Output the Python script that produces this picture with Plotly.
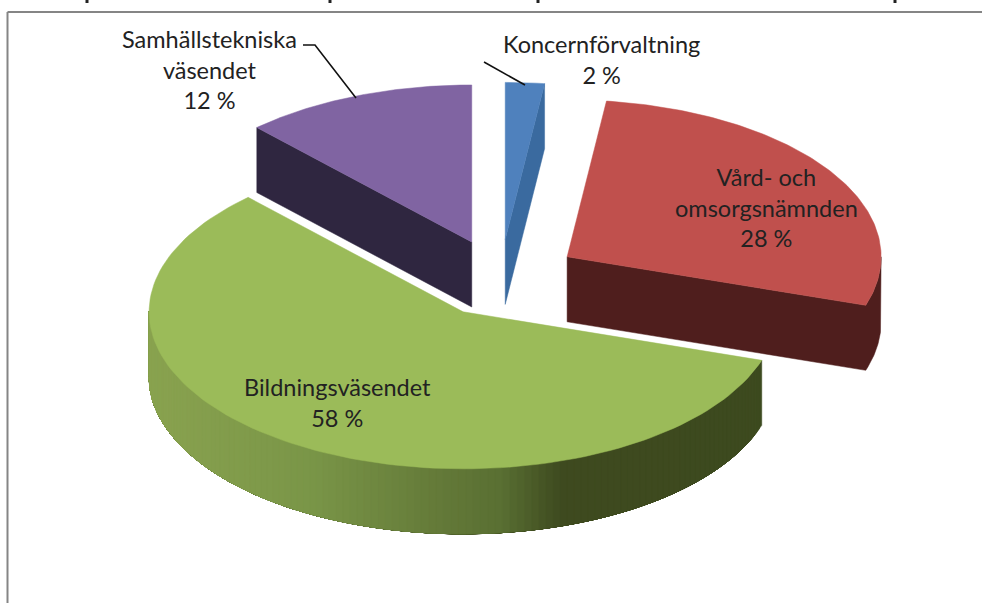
import numpy as np
import plotly.graph_objects as go

# Data
labels = ["Koncernförvaltning", "Vård- och<br>omsorgsnämnden", "Bildningsväsendet", "Samhällstekniska<br>väsendet"]
values = [2, 28, 58, 12]

# Style
top_colors = ["#4F81BD", "#C0504D", "#9BBB59", "#8064A2"]
wall_colors = ["#3A6A9F", "#4F1E1D", "#3E4A20", "#2F2640"]
label_xy = [(601, 59), (766, 207), (337, 402), (209, 69)]
# pie projection (in pixel-unit axes)
CX, CY, RX, RY, DEPTH, PULL = 504.5, 280, 314, 157, 65, 0.24
NUDGE = [(-4, -3), (-1, -3), (-1, 0), (-5, -3)]
CLIPPED_TEXT_MARKS = [87, 330, 538, 895]


def pt(center, deg):
    t = np.radians(deg)
    return center[0] + RX * np.sin(t), center[1] - RY * np.cos(t)


def poly(xs, ys, color):
    return go.Scatter(x=list(xs), y=list(ys), mode="lines", fill="toself", fillcolor=color,
                      line=dict(color=color, width=0.5), hoverinfo="skip", showlegend=False)


total = sum(values)
edges = np.concatenate([[0], np.cumsum(values)]) / total * 360
centers = []
for i in range(len(values)):
    m = np.radians((edges[i] + edges[i + 1]) / 2)
    centers.append((CX + PULL * RX * np.sin(m) + NUDGE[i][0], CY - PULL * RY * np.cos(m) + NUDGE[i][1]))

GRAD_X = [150, 312, 440, 500, 560, 800]
GRAD_R = [138, 122, 100, 90, 63, 61]
GRAD_G = [163, 150, 122, 112, 75, 74]
GRAD_B = [80, 72, 57, 51, 32, 31]

fig = go.Figure()


def walls(c, a0, a1, color, n=40, with_cut=True):
    """Side of a slice: rim from a0 to a1, extruded by DEPTH; with_cut adds the cut face to the apex."""
    th = np.linspace(a0, a1, n)
    xs, ys = pt(c, th)
    if with_cut:
        return poly(np.r_[c[0], xs, xs[::-1], c[0], c[0]],
                    np.r_[c[1], ys, ys[::-1] + DEPTH, c[1] + DEPTH, c[1]], color)
    return poly(np.r_[xs, xs[::-1], xs[0]], np.r_[ys, ys[::-1] + DEPTH, ys[0]], color)


def top(c, a0, a1, color):
    th = np.linspace(a0, a1, 120)
    xs, ys = pt(c, th)
    return poly(np.r_[c[0], xs, c[0]], np.r_[c[1], ys, c[1]], color)


# purple
i = 3
fig.add_trace(walls(centers[i], edges[i], edges[i], wall_colors[i], n=2))
fig.add_trace(top(centers[i], edges[i], edges[i + 1], top_colors[i]))
# blue
i = 0
fig.add_trace(walls(centers[i], edges[i + 1], edges[i + 1], wall_colors[i], n=2))
fig.add_trace(top(centers[i], edges[i], edges[i + 1], top_colors[i]))
# red
i = 1
fig.add_trace(walls(centers[i], edges[i + 1], 90, wall_colors[i]))
fig.add_trace(top(centers[i], edges[i], edges[i + 1], top_colors[i]))
# green: outer wall with horizontal shading; each band overlaps all later ones so no seams show
i = 2
c = centers[i]
th = np.linspace(edges[i], 270, 121)
for a0 in th[:-1]:
    xm = pt(c, a0 + 0.67)[0]
    col = "rgb(%d,%d,%d)" % (np.interp(xm, GRAD_X, GRAD_R), np.interp(xm, GRAD_X, GRAD_G), np.interp(xm, GRAD_X, GRAD_B))
    fig.add_trace(walls(c, a0, 270, col, n=80, with_cut=False))
fig.add_trace(top(c, edges[i], edges[i + 1], top_colors[i]))

# leader lines
for lx, ly in [([303, 315, 356], [45, 45, 98]), ([484, 525], [62, 85])]:
    fig.add_trace(go.Scatter(x=lx, y=ly, mode="lines", line=dict(color="#111111", width=1.6),
                             hoverinfo="skip", showlegend=False))

# labels
for name, v, (x, y) in zip(labels, values, label_xy):
    fig.add_annotation(x=x, y=y, text=f"{name}<br>{v} %", showarrow=False, xanchor="center", yanchor="middle",
                       font=dict(family="Lato", size=23.5, color="#222222"), align="center")

# frame
fig.add_shape(type="line", x0=7.5, x1=982, y0=12, y1=12, line=dict(color="#858585", width=2))
fig.add_shape(type="line", x0=7.5, x1=7.5, y0=12, y1=603, line=dict(color="#858585", width=2))
# remnants of the clipped text line above the frame
for mx in CLIPPED_TEXT_MARKS:
    fig.add_shape(type="line", x0=mx, x1=mx, y0=0, y1=3, line=dict(color="#222222", width=3))

fig.update_layout(width=982, height=603, margin=dict(l=0, r=0, t=0, b=0), paper_bgcolor="white",
                  plot_bgcolor="white", showlegend=False,
                  xaxis=dict(range=[0, 982], visible=False, fixedrange=True),
                  yaxis=dict(range=[603, 0], visible=False, fixedrange=True))
fig.write_html("out.html", config={"displayModeBar": False},
               post_script="document.body.style.margin='0';")
